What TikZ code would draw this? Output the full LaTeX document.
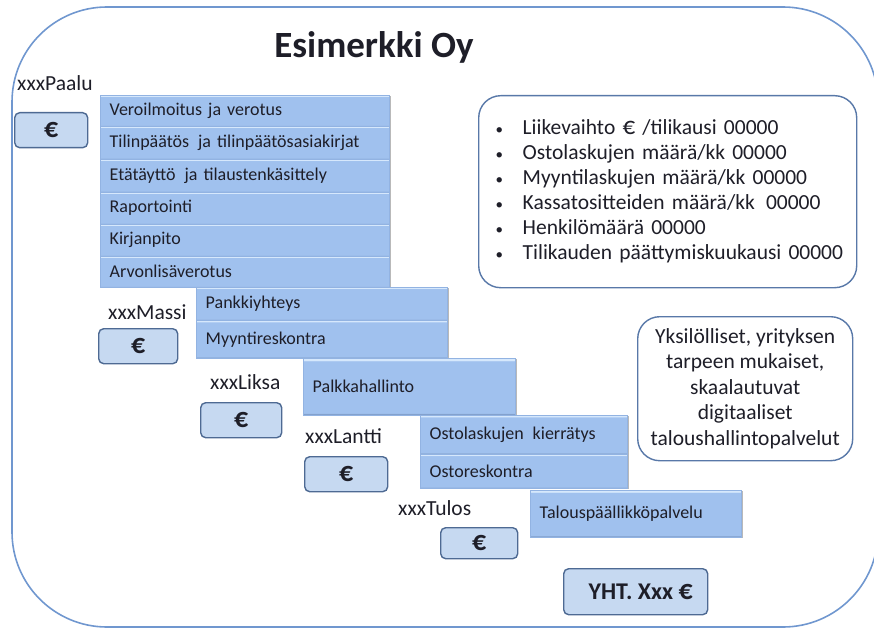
\documentclass[tikz,border=0pt]{standalone}
\usepackage{fontspec}
\setmainfont{Carlito}
\usetikzlibrary{shadows}

\definecolor{framecol}{HTML}{7097CF}
\definecolor{barfill}{HTML}{A0C1EE}
\definecolor{bartop}{HTML}{D6E8FC}
\definecolor{bardark}{HTML}{7B98C4}
\definecolor{barline}{HTML}{92B3E2}
\definecolor{eurofill}{HTML}{C6D9F1}
\definecolor{euroline}{HTML}{4E6A93}
\definecolor{boxline}{HTML}{5878A8}
\definecolor{ink}{HTML}{1E1E28}

% service bars: flat blue body, light strip on top, darker bottom edge
\pgfdeclareverticalshading{barshade}{100bp}{%
  color(0bp)=(bardark); color(25.8bp)=(bardark); color(27bp)=(barfill);
  color(72.3bp)=(barfill); color(73.3bp)=(bartop); color(100bp)=(bartop)}

\newcommand{\fs}[1]{\fontsize{#1}{#1}\selectfont}
\newcommand{\bul}{\hspace*{17pt}\makebox[27pt][l]{\fs{15}\textbullet}}

\begin{document}
\begin{tikzpicture}[x=1pt,y=-1pt,
  every node/.style={text=ink},
  svc/.style={anchor=north west, draw=barline, line width=0.4pt,
    shading=barshade, inner xsep=9.5pt, inner ysep=0pt, align=left,
    font=\fs{18},
    drop shadow={shadow xshift=2.2pt, shadow yshift=-1.2pt, opacity=0.55}},
  eurobox/.style={anchor=north west, draw=euroline, fill=eurofill,
    line width=1.4pt, rounded corners=5pt, inner sep=0pt,
    font=\bfseries\fs{28}},
  tag/.style={anchor=west, inner sep=0pt, font=\fs{21.5}},
  infobox/.style={anchor=north west, draw=boxline, fill=white,
    line width=1.4pt, rounded corners=22pt, inner sep=0pt,
    font=\fs{21.5}}]

\useasboundingbox (0,0) rectangle (874,628);

% company frame
\draw[framecol, line width=1.6pt, rounded corners=95pt] (12,7) rectangle (878,627);
\node[font=\bfseries\fs{37}, inner sep=0pt] (title) at (374,47) {Esimerkki Oy};

% xxxPaalu
\node[tag] (lPaalu) at (17,83) {xxxPaalu};
\node[eurobox, minimum width=73pt, minimum height=35pt] (ePaalu) at (14,112) {€};
\node[svc, text width=270pt, minimum height=31pt] (s11) at (100,95) {Veroilmoitus ja verotus};
\node[svc, text width=270pt, minimum height=33pt] (s12) at (100,126) {Tilinpäätös\hspace{3pt} ja tilinpäätösasiakirjat};
\node[svc, text width=270pt, minimum height=33pt] (s13) at (100,159) {Etätäyttö\hspace{3pt} ja tilaustenkäsittely};
\node[svc, text width=270pt, minimum height=32pt] (s14) at (100,192) {Raportointi};
\node[svc, text width=270pt, minimum height=32pt] (s15) at (100,224) {Kirjanpito};
\node[svc, text width=270pt, minimum height=31pt] (s16) at (100,256) {Arvonlisäverotus};

% xxxMassi
\node[tag] (lMassi) at (108,312) {xxxMassi};
\node[eurobox, minimum width=79pt, minimum height=35pt] (eMassi) at (98,328) {€};
\node[svc, text width=232pt, minimum height=33pt] (s21) at (196,287) {Pankkiyhteys};
\node[svc, text width=232pt, minimum height=38pt] (s22) at (196,320) {Myyntireskontra};

% xxxLiksa
\node[tag] (lLiksa) at (210,382) {xxxLiksa};
\node[eurobox, minimum width=81pt, minimum height=35pt] (eLiksa) at (200,402) {€};
\node[svc, text width=193pt, minimum height=57pt] (s31) at (303,358) {Palkkahallinto};

% xxxLantti
\node[tag] (lLantti) at (305,436) {xxxLantti};
\node[eurobox, minimum width=83pt, minimum height=35pt] (eLantti) at (304,456) {€};
\node[svc, text width=188pt, minimum height=39pt] (s41) at (420,415) {Ostolaskujen\hspace{3pt} kierrätys};
\node[svc, text width=188pt, minimum height=34pt] (s42) at (420,454) {Ostoreskontra};

% xxxTulos
\node[tag] (lTulos) at (398,508) {xxxTulos};
\node[eurobox, minimum width=77pt, minimum height=31pt] (eTulos) at (440,527) {€};
\node[svc, text width=192pt, minimum height=47pt] (s51) at (530,490) {Talouspäällikköpalvelu};

% total
\node[eurobox, minimum width=144pt, minimum height=46pt, font=\bfseries\fs{24}]
  (total) at (563,568) {\hspace{10pt}YHT. Xxx {\fs{28}€}};

% key figures
\node[infobox, minimum width=378pt, minimum height=192pt, text width=378pt, align=left]
  (facts) at (478,95) {%
  \bul Liikevaihto {\fs{25}€} /tilikausi 00000\\[3.5pt]
  \bul Ostolaskujen määrä/kk 00000\\[3.5pt]
  \bul Myyntilaskujen määrä/kk 00000\\[3.5pt]
  \bul Kassatositteiden määrä/kk\hspace{4pt} 00000\\[3.5pt]
  \bul Henkilömäärä 00000\\[3.5pt]
  \bul Tilikauden päättymiskuukausi 00000};

% slogan
\node[infobox, minimum width=215pt, minimum height=144pt, align=center]
  (slogan) at (637,316) {%
  Yksilölliset, yrityksen\\[4pt]
  tarpeen mukaiset,\\[4pt]
  skaalautuvat\\[4pt]
  digitaaliset\\[4pt]
  taloushallintopalvelut};

\end{tikzpicture}
\end{document}
